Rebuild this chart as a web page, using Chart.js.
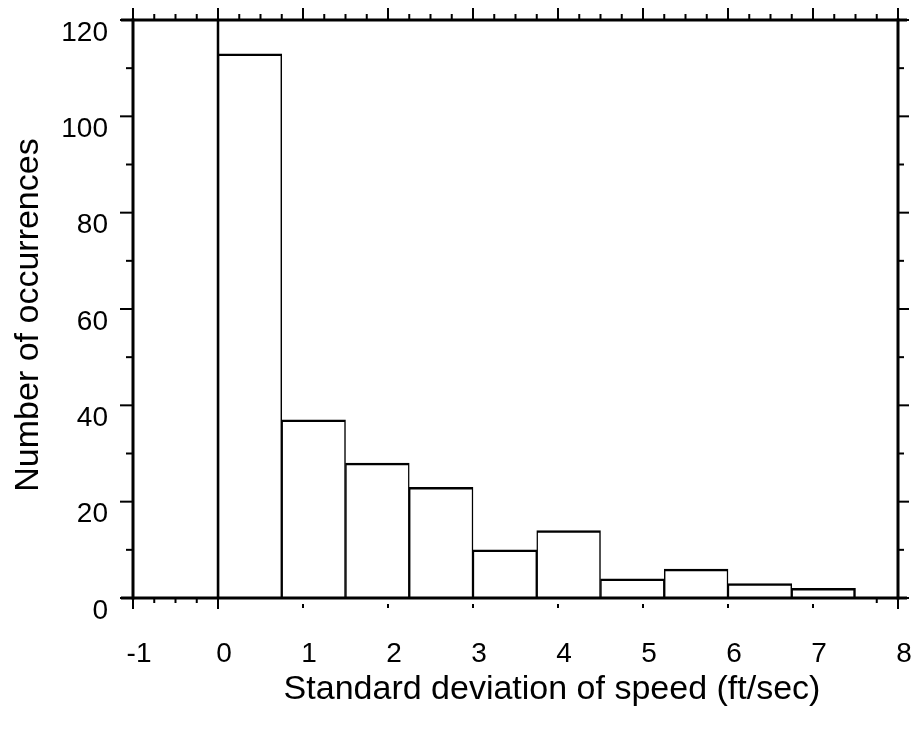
<!DOCTYPE html>
<html>
<head>
<meta charset="utf-8">
<script src="https://cdn.jsdelivr.net/npm/chart.js@4.4.1/dist/chart.umd.min.js"></script>
<style>
  html, body { margin: 0; padding: 0; background: #fff; }
  #wrap { width: 915px; height: 733px; }
</style>
</head>
<body>
<div id="wrap"><canvas id="chartHist"></canvas></div>
<script>
  // histogram data (bins of 0.75 ft/sec)
  const binStarts = [0, 0.75, 1.5, 2.25, 3, 3.75, 4.5, 5.25, 6, 6.75];
  const binWidth = 0.75;
  const counts = [113, 37, 28, 23, 10, 14, 4, 6, 3, 2];
  const xTickValues = [-1, 0, 1, 2, 3, 4, 5, 6, 7, 8];
  const yTickValues = [0, 20, 40, 60, 80, 100, 120];
  const xTitle = "Standard deviation of speed (ft/sec)";
  const yTitle = "Number of occurrences";

  const FONT = "'Liberation Sans', Arial, Helvetica, sans-serif";

  // no automatic label padding, the chart area is fixed by layout.padding
  function noPad(scale) {
    scale.paddingLeft = 0;
    scale.paddingRight = 0;
    scale.paddingTop = 0;
    scale.paddingBottom = 0;
  }

  // frame, ticks, zero line and axis titles
  const framePlugin = {
    id: "frame",
    afterDatasetsDraw(chart) {
      const ctx = chart.ctx;
      const x = chart.scales.x, y = chart.scales.y;
      const L = x.getPixelForValue(xTickValues[0]);
      const R = x.getPixelForValue(xTickValues[xTickValues.length - 1]);
      const T = y.getPixelForValue(yTickValues[yTickValues.length - 1]);
      const B = y.getPixelForValue(0);
      const line = (x1, y1, x2, y2) => {
        ctx.beginPath(); ctx.moveTo(x1, y1); ctx.lineTo(x2, y2); ctx.stroke();
      };
      ctx.save();
      ctx.strokeStyle = "#000";
      ctx.lineCap = "butt";

      // zero line
      ctx.lineWidth = 2.5;
      line(x.getPixelForValue(0), T, x.getPixelForValue(0), B);

      // box
      ctx.lineWidth = 3;
      line(L - 12, T, R + 9, T);
      line(L - 12, B, R + 9, B);
      line(L, T - 1.5, L, B + 1.5);
      line(R, T - 1.5, R, B + 1.5);

      // top ticks (majors at integers, minors every 0.25)
      ctx.lineWidth = 2;
      for (let v = xTickValues[0]; v <= 8; v += 0.25) {
        const px = x.getPixelForValue(v);
        const major = Math.abs(v - Math.round(v)) < 1e-6;
        line(px, T, px, T - (major ? 12 : 6));
      }
      // bottom ticks
      [-1, 0, 8].forEach(v => {
        const px = x.getPixelForValue(v);
        line(px, B, px, B + 11);
      });
      [-0.75, -0.5, -0.25, 7.75].forEach(v => {
        const px = x.getPixelForValue(v);
        line(px, B, px, B + 5);
      });
      for (let v = 1; v <= 7; v++) {
        const px = x.getPixelForValue(v);
        line(px, B + 6, px, B + 10);
      }
      // left / right ticks
      for (let v = 0; v <= 120; v += 10) {
        const py = y.getPixelForValue(v);
        line(L, py, L - (v % 20 === 0 ? 13 : 7), py);
        line(R, py, R + (v % 20 === 0 ? 11 : 6), py);
      }

      // titles
      ctx.fillStyle = "#000";
      ctx.font = "34px " + FONT;
      ctx.textAlign = "center";
      ctx.textBaseline = "middle";
      ctx.fillText(xTitle, 552, 690);
      ctx.translate(29, 315);
      ctx.rotate(-Math.PI / 2);
      ctx.fillText(yTitle, 0, 0);
      ctx.restore();
    }
  };

  document.addEventListener("DOMContentLoaded", function () {
    const ctx = document.getElementById("chartHist").getContext("2d");
    const last = counts.length - 1;
    new Chart(ctx, {
      type: "bar",
      data: {
        datasets: [{
          data: binStarts.map((s, i) => ({ x: s + binWidth / 2, y: counts[i] })),
          backgroundColor: "#fff",
          borderColor: "#000",
          borderWidth: (c) => ({ top: 2.5, left: 1.5, bottom: 0, right: c.dataIndex === last ? 2.5 : 1.5 }),
          borderSkipped: false,
          barPercentage: 1,
          categoryPercentage: 1,
        }],
      },
      options: {
        responsive: true,
        maintainAspectRatio: false,
        animation: false,
        layout: { padding: { top: 20, right: 17, left: 0, bottom: 0 } },
        plugins: {
          legend: { display: false },
          tooltip: { enabled: false },
        },
        scales: {
          x: {
            type: "linear",
            min: -1,
            max: 8,
            offset: false,
            grid: { display: false, offset: false },
            border: { display: false },
            ticks: {
              stepSize: 1,
              color: "#000",
              padding: 31,
              labelOffset: 6,
              maxRotation: 0,
              font: { family: FONT, size: 28 },
            },
            afterFit(scale) { scale.height = 135; noPad(scale); },
          },
          y: {
            min: 0,
            max: 120,
            grid: { display: false },
            border: { display: false },
            ticks: {
              stepSize: 20,
              color: "#000",
              padding: 17,
              labelOffset: 13,
              font: { family: FONT, size: 28 },
            },
            afterFit(scale) { scale.width = 133; noPad(scale); },
          },
        },
      },
      plugins: [framePlugin],
    });
  });
</script>
</body>
</html>
